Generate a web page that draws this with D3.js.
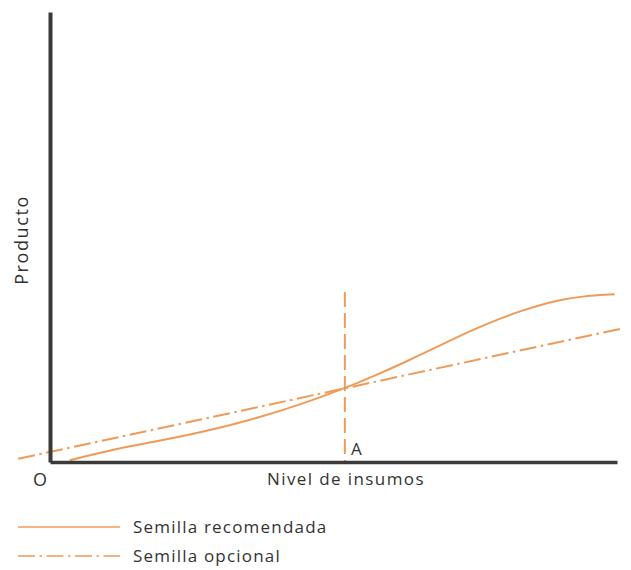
<!DOCTYPE html>
<html><head><meta charset="utf-8">
<script src="https://cdn.jsdelivr.net/npm/d3@7/dist/d3.min.js"></script>
<style>
body{margin:0;background:#fff;}
text{font-family:"Open Sans","DejaVu Sans",sans-serif;fill:#333;}
</style></head>
<body><svg id="c" width="631" height="570"></svg>
<script>
// Data (input level 0-100, product 0-100)
const recomX = [3.5, 11.8, 17.6, 26.5, 35.3, 44.1, 52, 57.3, 63, 68.8, 74.6, 79.4, 82.9, 86.4, 89.9, 93.5, 99.6];
const recomY = [0.4, 3.0, 4.3, 6.5, 9.3, 12.7, 16.4, 19.2, 22.4, 25.9, 29.4, 31.9, 33.5, 34.9, 36.0, 36.8, 37.3];
const opcionX = [-5.6, 101];
const opcionY = [0.7, 29.7];
const pointA = {x: 52, top: 37.8};
const legendLabels = ["Semilla recomendada", "Semilla opcional"];
const color = "#f09a58";

const svg = d3.select("#c");
const x = d3.scaleLinear().domain([0,100]).range([50,617]);
const y = d3.scaleLinear().domain([0,100]).range([462,12]);

const line = d3.line().x(d=>x(d[0])).y(d=>y(d[1]));

// vertical dashed line at A
svg.append("line").attr("x1",x(pointA.x)).attr("x2",x(pointA.x))
  .attr("y1",y(pointA.top)).attr("y2",y(0))
  .attr("stroke",color).attr("stroke-width",2).attr("stroke-dasharray","15,6");

// opcional (dash-dot)
svg.append("path").datum(d3.zip(opcionX,opcionY))
  .attr("d",line).attr("fill","none").attr("stroke",color)
  .attr("stroke-width",2).attr("stroke-dasharray","17,4.5,2.5,4.5");

// recomendada
svg.append("path").datum(d3.zip(recomX,recomY))
  .attr("d",d3.line().x(d=>x(d[0])).y(d=>y(d[1])).curve(d3.curveBasis))
  .attr("fill","none").attr("stroke",color).attr("stroke-width",2);

// axes
const xAxis = svg.append("g").attr("transform",`translate(0,${y(0)})`)
  .call(d3.axisBottom(x).tickValues([]).tickSizeOuter(0));
xAxis.select(".domain").attr("stroke","#3a3a3a").attr("stroke-width",3.5);
const yAxis = svg.append("g").attr("transform",`translate(${x(0)},0)`)
  .call(d3.axisLeft(y).tickValues([]).tickSizeOuter(0));
yAxis.select(".domain").attr("stroke","#3a3a3a").attr("stroke-width",4);

// labels
svg.append("text").attr("x",40).attr("y",486).attr("text-anchor","middle")
  .attr("font-size",18).text("O");
svg.append("text").attr("x",346).attr("y",485).attr("text-anchor","middle")
  .attr("font-size",17).attr("letter-spacing",1.4).text("Nivel de insumos");
svg.append("text").attr("x",351).attr("y",455)
  .attr("font-size",17).text("A");
svg.append("text").attr("transform","translate(28,240) rotate(-90)")
  .attr("text-anchor","middle").attr("font-size",18).attr("letter-spacing",1.6).text("Producto");

// legend
const leg = [{y:527, dash:null},{y:556, dash:"17,4.5,2.5,4.5"}];
leg.forEach((l,i)=>{
  svg.append("line").attr("x1",18).attr("x2",120).attr("y1",l.y).attr("y2",l.y)
    .attr("stroke",color).attr("stroke-width",1.5).attr("stroke-dasharray",l.dash);
  svg.append("text").attr("x",133).attr("y",l.y+6).attr("font-size",17)
    .attr("letter-spacing",1.2).text(legendLabels[i]);
});
</script></body></html>
